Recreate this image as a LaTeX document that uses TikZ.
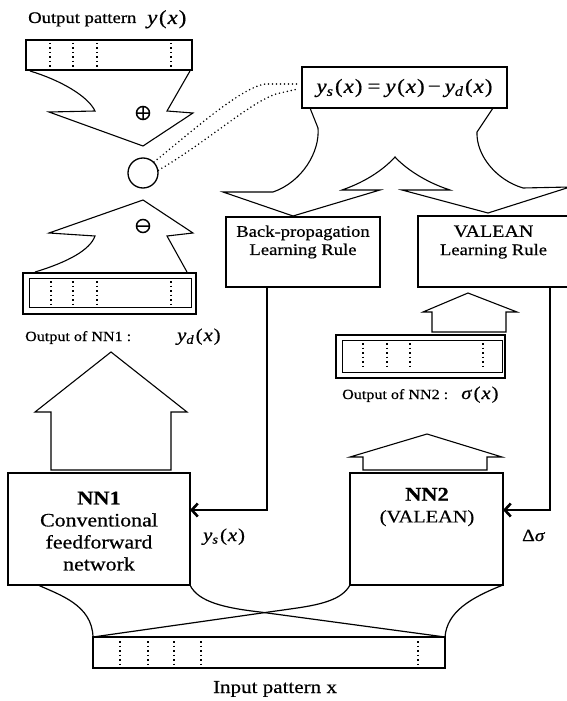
\documentclass[tikz,border=0pt]{standalone}
\usepackage{fontspec}
\setmainfont{Liberation Serif}[FakeStretch=1.15,FakeBold=0.6]
\usetikzlibrary{arrows.meta}
\newcommand\fsz[1]{\fontsize{#1}{#1}\selectfont}
\newcommand\vr[1]{\textit{#1}}
\newcommand\ofx{\kern1.5pt(\kern1pt\textit{x}\kern1pt)}
\begin{document}
\begin{tikzpicture}[x=1pt,y=-1pt,
  box/.style={draw, line width=2.5pt, outer sep=0pt, inner sep=0pt},
  thinbox/.style={draw, line width=1pt, outer sep=0pt, inner sep=0pt},
  outline/.style={draw, line width=1.1pt, line join=miter},
  feed/.style={line width=2.6pt, -{Straight Barb[length=6pt,width=13pt,line width=2.6pt]}},
  divider/.style={line width=1.5pt, dash pattern=on 1.5pt off 3pt},
  link/.style={line width=1.2pt},
  dots/.style={line width=1.7pt, dash pattern=on 0pt off 4pt, line cap=round},
  lbl/.style={inner sep=0pt, anchor=base west},
]
\clip (0,0) rectangle (567,701);

% ---------- output pattern y(x) ----------
\node[lbl, font=\fsz{16.2}] (outlbl) at (28,23) {Output pattern};
\node[lbl, font=\fsz{20}] (outy) at (147,24) {\vr{y}\ofx};
\node[box, line width=2.2pt, minimum width=166pt, minimum height=30pt] (outpat) at (109,55) {};
\foreach \x in {50,73,97,171} \draw[divider] (\x,43) -- (\x,68);

% merging arrow with the plus sign
\draw[outline] (30,71) .. controls (60,80) and (88,96) .. (95,111) -- (49,112)
  -- (143,146) -- (193,113) -- (167,111) -- (190,71);
\draw[line width=1.5pt] (143,113) circle (6.5) (136.5,113) -- (149.5,113) (143,106.5) -- (143,119.5);

% difference node
\node[draw, circle, line width=1.3pt, minimum size=30pt, inner sep=0pt] (diffc) at (143,173) {};

% arrow with the minus sign
\draw[outline] (35,272) .. controls (68,262) and (90,250) .. (95,236) -- (49,233)
  -- (143,200) -- (193,233) -- (167,236) -- (187,272);
\draw[line width=1.5pt] (143,226) circle (6.5) (136.5,226) -- (149.5,226);

% ---------- output of NN1 ----------
\node[box, line width=2.8pt, minimum width=173pt, minimum height=41pt] (o1) at (109.5,293.5) {};
\node[thinbox, minimum width=162pt, minimum height=29pt] (o1in) at (110,292.5) {};
\foreach \x in {51,73,97,171} \draw[divider] (\x,281) -- (\x,305);
\node[lbl, font=\fsz{14}] (o1lbl) at (25,341) {Output of NN1 :};
\node[lbl, font=\fsz{18}] (o1y) at (177,341) {\vr{y}\textsubscript{\vr{d}}\ofx};

% big arrow NN1 -> output
\draw[outline] (51,470) -- (51,412) -- (35,412) -- (111,352) -- (187,412) -- (171,412) -- (171,470) -- cycle;

% ---------- NN1 ----------
\node[box, line width=2.6pt, minimum width=182pt, minimum height=112pt] (nn1) at (99,529) {};
\node[align=center, inner sep=0pt, font=\fsz{19}, text depth=0pt] (nn1t) at (99,531)
  {{\fsz{19.5}\bfseries NN1}\\[3pt]Conventional\\[3pt]feedforward\\[3pt]network};

% ---------- equation box ----------
\node[box, line width=2.4pt, minimum width=205pt, minimum height=41pt] (eq) at (404.5,87.5) {};
\node[font=\fsz{20}, inner sep=0pt] (eqt) at (404.5,88)
  {\vr{y}\textsubscript{\vr{s}}\ofx\kern5pt=\kern5pt\vr{y}\ofx\kern3pt−\kern4pt\vr{y}\textsubscript{\vr{d}}\ofx};

% dotted links from the difference node to the equation
\draw[dots] (diffc.45) .. controls (190,133) and (240,88) .. (265,84) -- (298,84);
\draw[dots] (diffc.10) .. controls (210,140) and (255,98) .. (280,93) -- (298,89);

% forked arrow to both learning rules
\draw[outline] (310,108) -- (318,128) .. controls (320,152) and (302,182) .. (273,192)
  -- (223,192) -- (293,216) -- (380,190) -- (342,190)
  .. controls (368,181) and (385,168) .. (395,157)
  .. controls (405,168) and (425,182) .. (450,190)
  -- (402,190) -- (488,213) -- (570,187) -- (523,188)
  .. controls (496,180) and (476,155) .. (477,132) -- (493,108);

% ---------- learning rules ----------
\node[box, minimum width=154pt, minimum height=70pt] (bp) at (303,252) {};
\node[align=center, inner sep=0pt, font=\fsz{16.2}] (bpt) at (303,242)
  {Back-propagation\\[2pt]Learning Rule};
\node[box, minimum width=156pt, minimum height=71pt] (val) at (496,251.5) {};
\node[align=center, inner sep=0pt, font=\fsz{16.2}] (valt) at (493.5,242)
  {{\fsz{17.4}VALEAN}\\[2pt]Learning Rule};

% small arrow output of NN2 -> VALEAN rule
\draw[outline] (432,332) -- (432,312) -- (423,312) -- (468,293) -- (517,312) -- (506,312) -- (506,332) -- cycle;

% ---------- output of NN2 ----------
\node[box, line width=2.8pt, minimum width=169pt, minimum height=43pt] (o2) at (420.5,356.5) {};
\node[thinbox, minimum width=160pt, minimum height=32pt] (o2in) at (422,356) {};
\foreach \x in {363,387,410,483} \draw[divider] (\x,343) -- (\x,369);
\node[lbl, font=\fsz{14}] (o2lbl) at (342,399) {Output of NN2 :};
\node[lbl, font=\fsz{18}] (o2s) at (461,399) {\vr{σ}\ofx};

% arrow NN2 -> output
\draw[outline] (363,470) -- (363,457) -- (350,457) -- (427,434) -- (502,457) -- (487,457) -- (487,470) -- cycle;

% ---------- NN2 ----------
\node[box, line width=2.6pt, minimum width=153pt, minimum height=112pt] (nn2) at (426.5,529) {};
\node[align=center, inner sep=0pt, font=\fsz{17.7}] (nn2t) at (427,507)
  {{\fsz{19.5}\bfseries NN2}\\[4pt](VALEAN)};

% feedback from the learning rules
\draw[feed] ([xshift=41pt]bp.south west) |- ([yshift=19pt]nn1.east);
\draw[feed] ([xshift=132pt]val.south west) |- ([yshift=19pt]nn2.east);
\node[lbl, font=\fsz{18}] (ysl) at (203,541) {\vr{y}\textsubscript{\vr{s}}\ofx};
\node[lbl, font=\fsz{17}] (dsl) at (522,541) {Δ\vr{σ}};

% ---------- input pattern ----------
\node[draw, line width=1.6pt, outer sep=0pt, minimum width=352pt, minimum height=31pt] (inp) at (269,652.5) {};
\foreach \x in {120,148,174,201,418} \draw[divider] (\x,641) -- (\x,665);
\node[inner sep=0pt, anchor=base, font=\fsz{18.3}] (inlbl) at (275,693) {Input pattern x};

% input fans into both networks
\draw[link] ([xshift=30pt]nn1.south west) .. controls (60,595) and (92,605) .. (inp.north west);
\draw[link] (nn1.south east) .. controls (198,602) and (225,608) .. (260,612) -- (inp.north east);
\draw[link] (nn2.south west) .. controls (342,600) and (320,605) .. (290,609) -- (inp.north west);
\draw[link] (nn2.south east) .. controls (470,598) and (447,612) .. (inp.north east);
\end{tikzpicture}
\end{document}
